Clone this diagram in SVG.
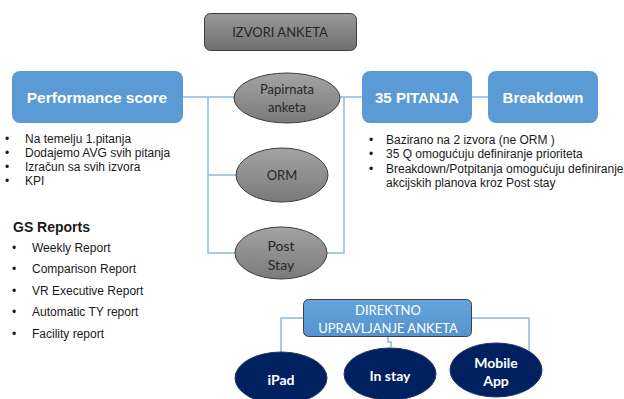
<svg xmlns="http://www.w3.org/2000/svg" width="624" height="399" viewBox="0 0 624 399">
<defs>
<linearGradient id="gGray" x1="0" y1="0" x2="0" y2="1">
<stop offset="0" stop-color="#a3a3a3"/>
<stop offset="1" stop-color="#7a7a7a"/>
</linearGradient>
<linearGradient id="gBox" x1="0" y1="0" x2="0" y2="1">
<stop offset="0" stop-color="#999999"/>
<stop offset="1" stop-color="#6f6f6f"/>
</linearGradient>
<linearGradient id="gBlue" x1="0" y1="0" x2="0" y2="1">
<stop offset="0" stop-color="#64a3dc"/>
<stop offset="1" stop-color="#5693cc"/>
</linearGradient>
</defs>
<style>
.blue{fill:#5b9bd5;}
.btxt{font-family:"Liberation Sans",Arial,sans-serif;font-weight:bold;font-size:15px;fill:#ffffff;text-anchor:middle;dominant-baseline:central;}
.gell{fill:url(#gGray);stroke:#3f3f3f;stroke-width:1;}
.navy{fill:#002060;stroke:#1f3864;stroke-width:1;}
.ctxt{font-family:Lato,"Open Sans",sans-serif;font-size:13px;fill:#262626;text-anchor:middle;dominant-baseline:central;}
.wtxt{font-family:Lato,"Open Sans",sans-serif;font-size:14px;font-weight:bold;fill:#ffffff;text-anchor:middle;dominant-baseline:central;}
.list{font-family:"Liberation Sans",Arial,sans-serif;font-size:12px;fill:#1a1a1a;dominant-baseline:central;}
.conn{fill:none;stroke:#8fb8e3;stroke-width:1.5;}
</style>
<g id="connectors">
<polyline class="conn" points="183,97 234,97"/>
<polyline class="conn" points="208,97 208,253 235,253"/>
<polyline class="conn" points="208,175 236,175"/>
<polyline class="conn" points="340,97 362,97"/>
<polyline class="conn" points="344,97 344,253 327,253"/>
<polyline class="conn" points="472,97 488,97"/>
<polyline class="conn" points="303,318 281,318 281,352"/>
<polyline class="conn" points="388,337 388,342 391,342 391,347"/>
<polyline class="conn" points="472,318 529,318 529,350"/>
</g>
<g id="izvori">
<rect x="204.5" y="13.5" width="152" height="37" rx="6" fill="url(#gBox)" stroke="#3f3f3f"/>
<text class="ctxt" x="280" y="32">IZVORI ANKETA</text>
</g>
<g id="performance">
<rect class="blue" x="12" y="71" width="171" height="52" rx="8"/>
<text class="btxt" x="97" y="97" style="font-size:15.5px">Performance score</text>
</g>
<g id="pitanja">
<rect class="blue" x="362" y="71" width="110" height="52" rx="8"/>
<text class="btxt" x="417" y="97">35 PITANJA</text>
</g>
<g id="breakdown">
<rect class="blue" x="488" y="71" width="110" height="52" rx="8"/>
<text class="btxt" x="543" y="97">Breakdown</text>
</g>
<g id="papirnata">
<ellipse class="gell" cx="287" cy="98" rx="53" ry="25"/>
<text class="ctxt" x="287" y="89">Papirnata</text>
<text class="ctxt" x="287" y="107">anketa</text>
</g>
<g id="orm">
<ellipse class="gell" cx="282" cy="175" rx="46" ry="27"/>
<text class="ctxt" x="282" y="175">ORM</text>
</g>
<g id="poststay">
<ellipse class="gell" cx="281" cy="253" rx="46" ry="26"/>
<text class="ctxt" x="281" y="245" style="font-size:14px">Post</text>
<text class="ctxt" x="281" y="264" style="font-size:14px">Stay</text>
</g>
<g id="direktno">
<rect x="303.5" y="299.5" width="168" height="37" rx="5" fill="url(#gBlue)" stroke="#404040"/>
<text class="ctxt" x="388" y="310" style="fill:#ffffff">DIREKTNO</text>
<text class="ctxt" x="388" y="328" style="fill:#ffffff">UPRAVLJANJE ANKETA</text>
</g>
<g id="ipad">
<ellipse class="navy" cx="281" cy="378" rx="46" ry="26"/>
<text class="wtxt" x="281" y="379">iPad</text>
</g>
<g id="instay">
<ellipse class="navy" cx="390" cy="374" rx="46" ry="26"/>
<text class="wtxt" x="390" y="375">In stay</text>
</g>
<g id="mobileapp">
<ellipse class="navy" cx="496" cy="370" rx="46" ry="27"/>
<text class="wtxt" x="496" y="362">Mobile</text>
<text class="wtxt" x="496" y="380">App</text>
</g>
<g id="left-list" class="list">
<text x="5" y="139">•</text><text x="25" y="139">Na temelju 1.pitanja</text>
<text x="5" y="153">•</text><text x="25" y="153">Dodajemo AVG svih pitanja</text>
<text x="5" y="167">•</text><text x="25" y="167">Izračun sa svih izvora</text>
<text x="5" y="181">•</text><text x="25" y="181">KPI</text>
</g>
<g id="right-list" class="list">
<text x="369" y="140">•</text><text x="386" y="140">Bazirano na 2 izvora (ne ORM )</text>
<text x="369" y="154">•</text><text x="386" y="154">35 Q omogućuju definiranje prioriteta</text>
<text x="369" y="169">•</text><text x="386" y="169">Breakdown/Potpitanja omogućuju definiranje</text>
<text x="386" y="183">akcijskih planova kroz Post stay</text>
</g>
<g id="gs-reports" class="list">
<text x="13" y="227" style="font-weight:bold;font-size:14px">GS Reports</text>
<text x="12" y="248">•</text><text x="32" y="248">Weekly Report</text>
<text x="12" y="269">•</text><text x="32" y="269">Comparison Report</text>
<text x="12" y="291">•</text><text x="32" y="291">VR Executive Report</text>
<text x="12" y="312">•</text><text x="32" y="312">Automatic TY report</text>
<text x="12" y="334">•</text><text x="32" y="334">Facility report</text>
</g>
</svg>
